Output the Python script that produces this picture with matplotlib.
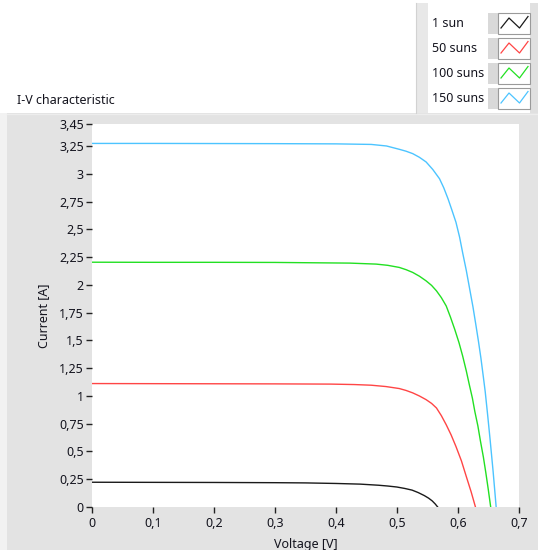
import matplotlib
matplotlib.use("Agg")
import matplotlib.pyplot as plt
from matplotlib.patches import Rectangle

plt.rcParams['font.family'] = ['Noto Sans', 'DejaVu Sans']

# ---- data ----
series_names = ["1 sun", "50 suns", "100 suns", "150 suns"]
series_colors = ["#1a1a1a", "#ff4545", "#22e022", "#4cc4ff"]

v_1sun = [0, 0.1, 0.2, 0.3, 0.35, 0.4, 0.44, 0.47, 0.485, 0.5, 0.513, 0.525, 0.535,
          0.545, 0.552, 0.558, 0.563, 0.567]
i_1sun = [0.223, 0.222, 0.221, 0.219, 0.217, 0.212, 0.206, 0.196, 0.189, 0.180, 0.167, 0.152, 0.130,
          0.103, 0.080, 0.055, 0.027, 0.0]

v_50suns = [0, 0.1, 0.2, 0.3, 0.392, 0.43, 0.458, 0.482, 0.504, 0.515, 0.526, 0.537, 0.548, 0.557,
            0.565, 0.573, 0.581, 0.589, 0.597, 0.606, 0.614, 0.622, 0.629]
i_50suns = [1.112, 1.111, 1.110, 1.109, 1.107, 1.103, 1.097, 1.085, 1.067, 1.050, 1.028, 1.000, 0.967, 0.933,
            0.892, 0.823, 0.741, 0.650, 0.545, 0.415, 0.274, 0.135, 0.0]

v_100suns = [0, 0.1, 0.2, 0.3, 0.4225, 0.466, 0.485, 0.504, 0.515, 0.526, 0.537, 0.548, 0.557, 0.565,
             0.573, 0.581, 0.588, 0.595, 0.602, 0.608, 0.614, 0.619, 0.624, 0.628, 0.633, 0.637,
             0.642, 0.646, 0.650, 0.654]
i_100suns = [2.205, 2.204, 2.204, 2.203, 2.197, 2.188, 2.177, 2.158, 2.138, 2.113, 2.079, 2.037, 1.996, 1.947,
             1.886, 1.811, 1.71, 1.60, 1.48, 1.36, 1.225, 1.10, 0.98, 0.86, 0.73, 0.60,
             0.45, 0.31, 0.16, 0.0]

v_150suns = [0, 0.1, 0.2, 0.3, 0.4, 0.458, 0.483, 0.504, 0.515, 0.526, 0.537, 0.548, 0.559, 0.570,
             0.577, 0.584, 0.590, 0.597, 0.603, 0.608, 0.614, 0.619, 0.625, 0.630, 0.634, 0.638,
             0.642, 0.645, 0.649, 0.653, 0.658, 0.663]
i_150suns = [3.275, 3.275, 3.274, 3.273, 3.271, 3.266, 3.252, 3.222, 3.205, 3.183, 3.150, 3.108, 3.040, 2.957,
             2.875, 2.776, 2.680, 2.565, 2.430, 2.29, 2.13, 1.98, 1.80, 1.63, 1.49, 1.34,
             1.17, 1.04, 0.83, 0.61, 0.32, 0.0]

x_ticks = [0, 0.1, 0.2, 0.3, 0.4, 0.5, 0.6, 0.7]
x_tick_labels = ["0", "0,1", "0,2", "0,3", "0,4", "0,5", "0,6", "0,7"]
y_ticks = [0, 0.25, 0.5, 0.75, 1, 1.25, 1.5, 1.75, 2, 2.25, 2.5, 2.75, 3, 3.25, 3.45]
y_tick_labels = ["0", "0,25", "0,5", "0,75", "1", "1,25", "1,5", "1,75", "2", "2,25",
                 "2,5", "2,75", "3", "3,25", "3,45"]

title = "I-V characteristic"
x_label = "Voltage [V]"
y_label = "Current [A]"

W, H = 538, 550
FS = 9
TXT = "#14141e"

fig = plt.figure(figsize=(W / 100, H / 100), dpi=100)
fig.patch.set_facecolor("white")

# background / decoration layer in pixel coordinates
bg = fig.add_axes([0, 0, 1, 1], zorder=0)
bg.set_xlim(0, W)
bg.set_ylim(H, 0)
bg.axis("off")

bg.add_patch(Rectangle((0, 113), 7, H - 113, color="#f2f2f2", lw=0))
bg.add_patch(Rectangle((7, 113), W - 7, H - 113, color="#e3e3e3", lw=0))
bg.plot([7, W], [113.5, 113.5], color="#ededed", lw=1)

bg.text(17, 100, title, fontsize=FS, color=TXT, ha="left", va="center")

# legend block (top right)
bg.add_patch(Rectangle((416, 3), 12, 110, color="#e8e8e8", lw=0))
bg.plot([416, 416], [3, 113], color="#d2d2d2", lw=0.8)
bg.add_patch(Rectangle((530, 3), 8, 110, color="#e0e0e0", lw=0))
row_tops = [13, 38, 63, 88]
zig_x = [501.0, 509.0, 519.5, 528.0]
zig_dy = [15.0, 5.0, 15.0, 3.5]
for name, col, top in zip(series_names, series_colors, row_tops):
    bg.add_patch(Rectangle((428, top), 60, 21, facecolor="white", edgecolor="none"))
    bg.add_patch(Rectangle((488, top), 10, 21, facecolor="#d9d9d9", edgecolor="none"))
    bg.add_patch(Rectangle((498, top), 32, 21, facecolor="white", edgecolor="#9a9a9a", lw=0.8))
    bg.text(432, top + 10.5, name, fontsize=FS, color=TXT, ha="left", va="center")
    bg.plot(zig_x, [top + d for d in zig_dy], color=col, lw=0.9)

# main plot area
x0, x1, y0, y1 = 92.3, 518.7, 124, 507
ax = fig.add_axes([x0 / W, 1 - y1 / H, (x1 - x0) / W, (y1 - y0) / H], zorder=1)
ax.set_facecolor("white")
for s in ax.spines.values():
    s.set_visible(False)

curves = [(v_1sun, i_1sun), (v_50suns, i_50suns), (v_100suns, i_100suns), (v_150suns, i_150suns)]
for (v, i), col, name in zip(curves, series_colors, series_names):
    ax.plot(v, i, color=col, lw=1.0, label=name, solid_joinstyle="round")

ax.set_xlim(0, 0.7)
ax.set_ylim(0, 3.45)
ax.set_xticks(x_ticks)
ax.set_xticklabels(x_tick_labels)
ax.set_yticks(y_ticks)
ax.set_yticklabels(y_tick_labels)
ax.tick_params(axis="both", direction="out", color="#222222", labelcolor=TXT,
               labelsize=FS, width=1.0)
ax.tick_params(axis="y", length=4, pad=2)
ax.tick_params(axis="x", length=4, pad=3)

ax.set_xlabel(x_label, fontsize=FS, color=TXT, labelpad=6)
ax.set_ylabel(y_label, fontsize=FS, color=TXT)
ax.yaxis.set_label_coords(-0.098, 0.5)

fig.savefig("out.png", dpi=100)
